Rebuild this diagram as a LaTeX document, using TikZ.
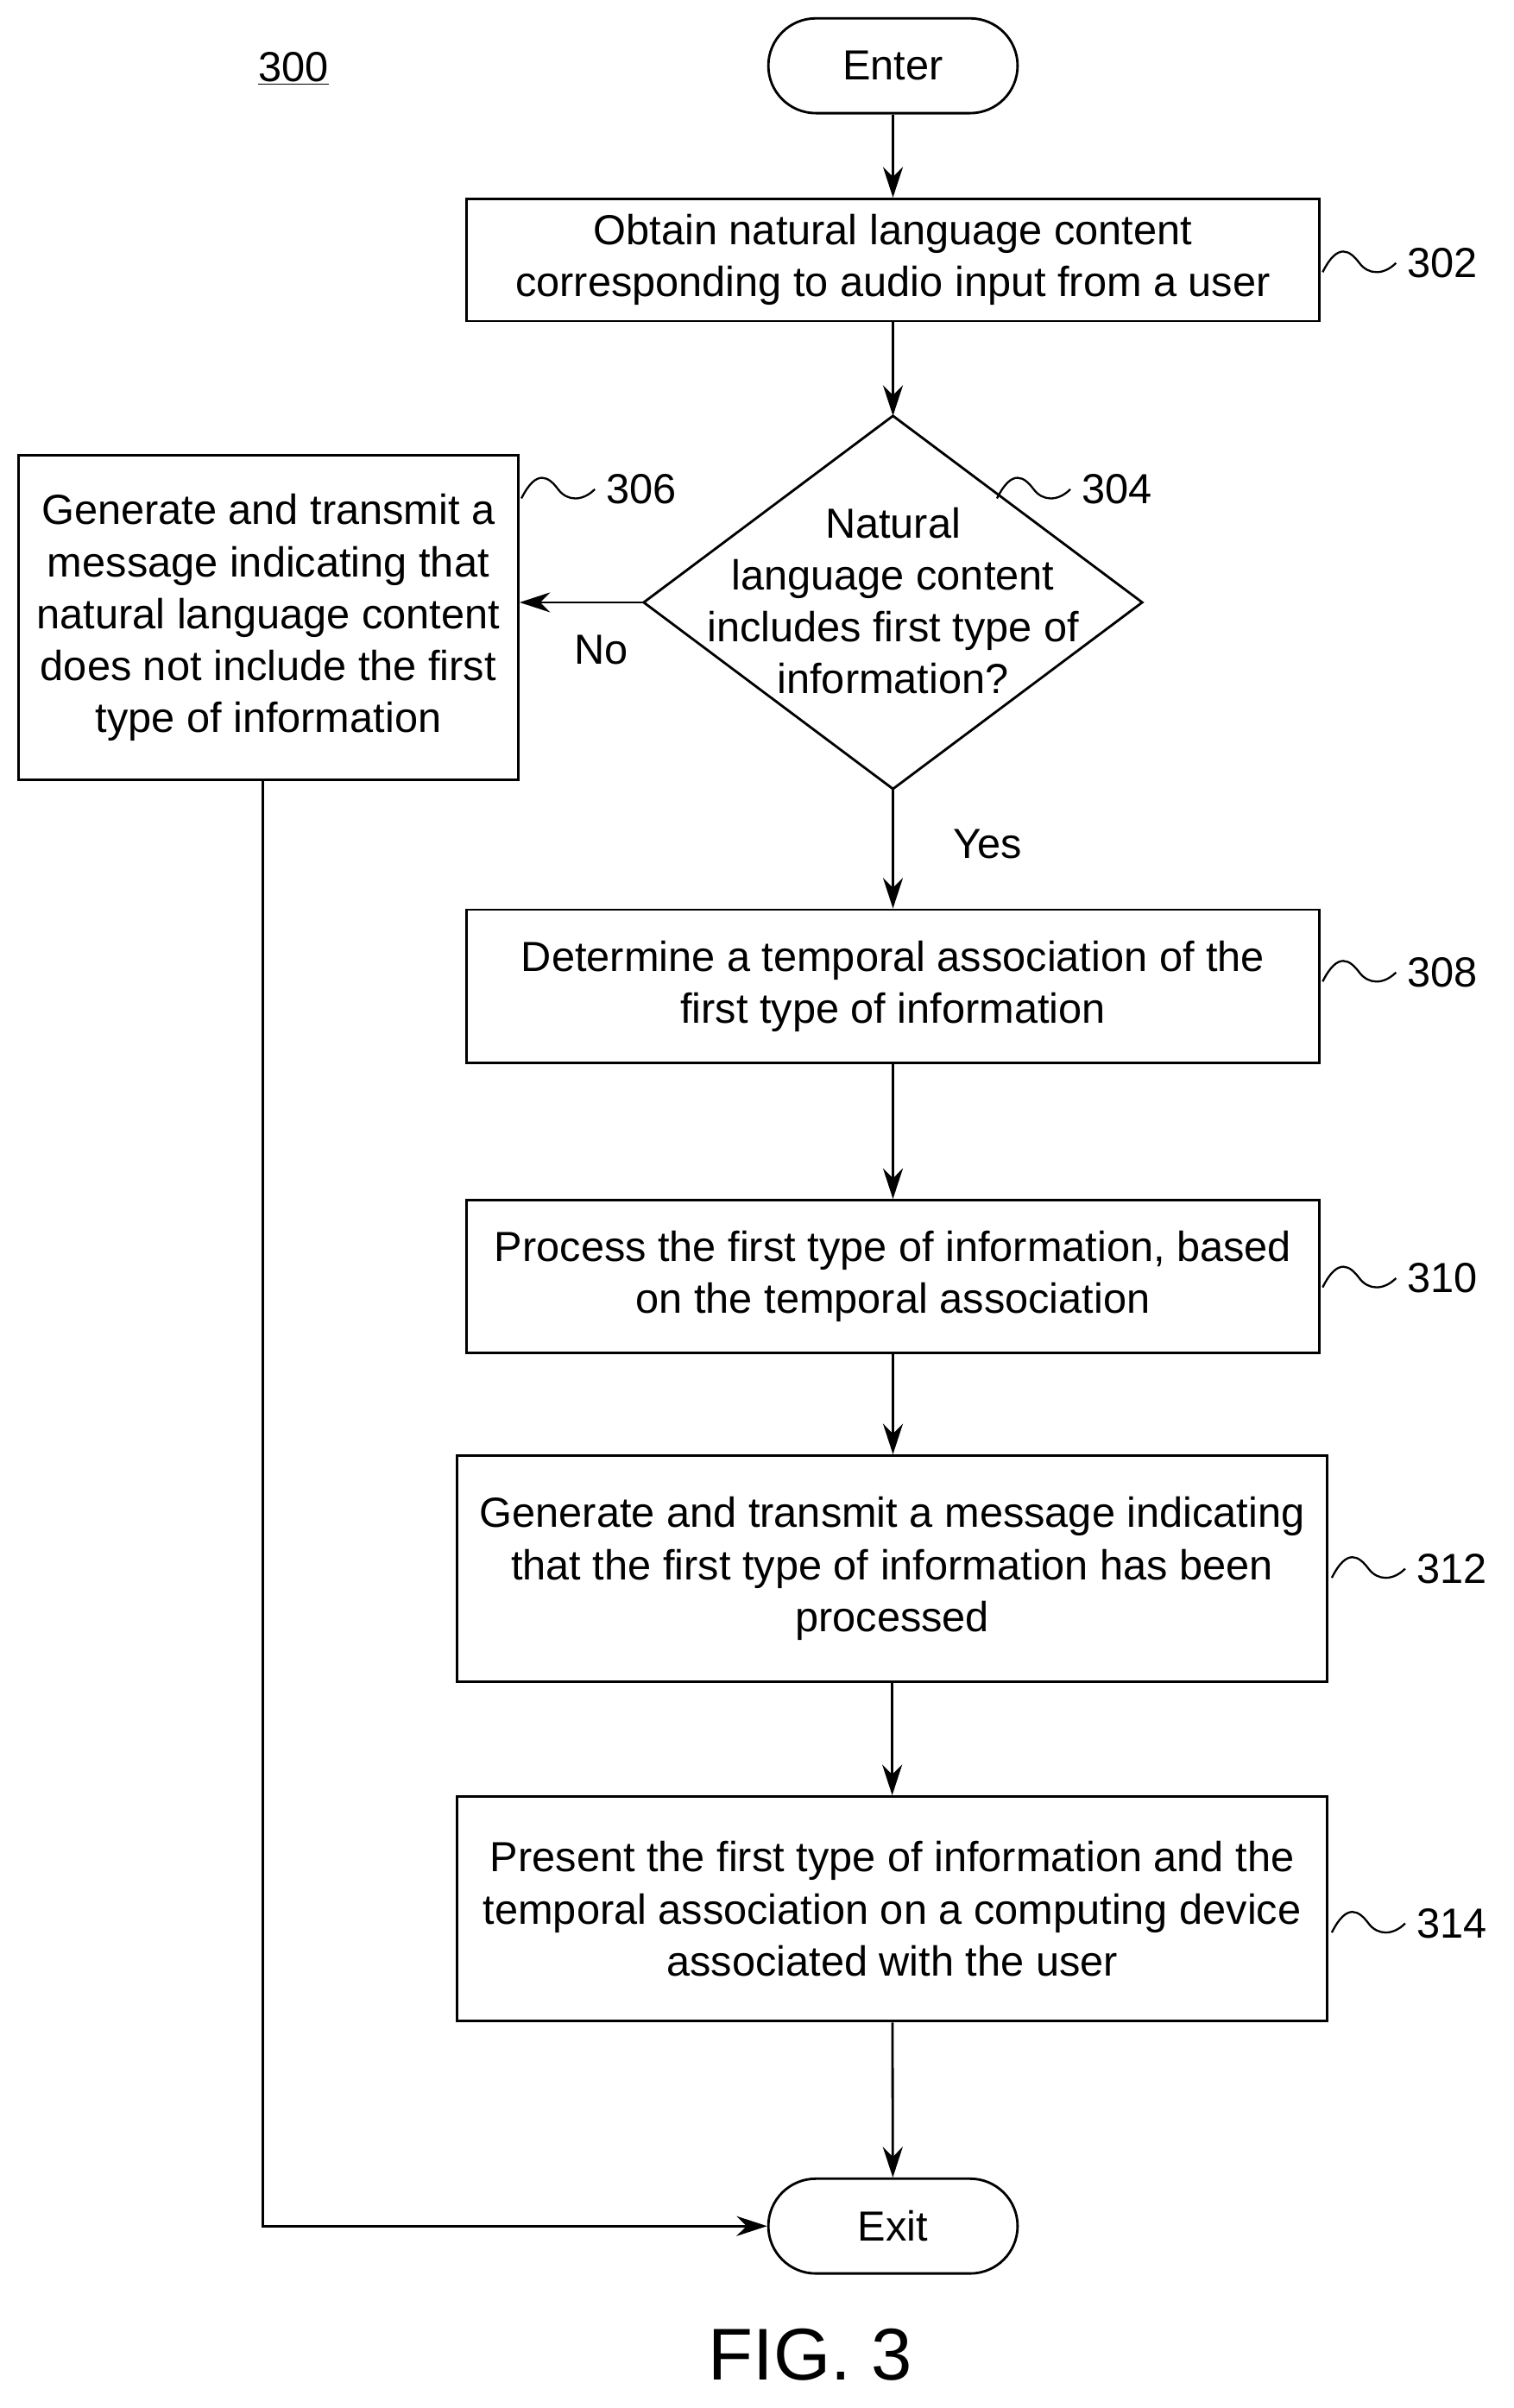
\documentclass[tikz,border=0pt]{standalone}
\usepackage{fontspec}
\setmainfont{Liberation Sans}
\usetikzlibrary{shapes.geometric,arrows.meta}
\begin{document}
\begin{tikzpicture}[x=1pt,y=-1pt,
  box/.style={draw,line width=1.6pt,minimum width=#1,align=center,font=\fontsize{27.5}{34}\selectfont,inner sep=0pt},
  term/.style={draw,line width=1.6pt,rounded corners=31pt,minimum width=163pt,minimum height=62pt,font=\fontsize{27.5}{30}\selectfont},
  arr/.style={line width=1.6pt,-{Stealth[length=20pt,width=13pt]}},
  lbl/.style={font=\fontsize{27.5}{30}\selectfont},
  sq/.style={line width=1.3pt}]
\useasboundingbox (0,0) rectangle (990,1575);
\node[lbl] (n300) at (192,45) {\underline{300}};
\node[term] (enter) at (584,43) {Enter};
\node[box=558pt,minimum height=80pt] (b302) at (584,170) {Obtain natural language content\\corresponding to audio input from a user};
\coordinate (dN) at (584,272); \coordinate (dS) at (584,516);
\coordinate (dW) at (421,394); \coordinate (dE) at (747,394);
\draw[line width=1.6pt] (dN) -- (dE) -- (dS) -- (dW) -- cycle;
\node[align=center,font=\fontsize{27.5}{34}\selectfont] (d304) at (584,393) {Natural\\language content\\includes first type of\\information?};
\node[box=327pt,minimum height=212pt] (b306) at (175.5,404) {Generate and transmit a\\message indicating that\\natural language content\\does not include the first\\type of information};
\node[box=558pt,minimum height=100pt] (b308) at (584,645) {Determine a temporal association of the\\first type of information};
\node[box=558pt,minimum height=100pt] (b310) at (584,835) {Process the first type of information, based\\on the temporal association};
\node[box=569pt,minimum height=148pt] (b312) at (583.5,1026) {Generate and transmit a message indicating\\that the first type of information has been\\processed};
\node[box=569pt,minimum height=147pt] (b314) at (583.5,1248.5) {Present the first type of information and the\\temporal association on a computing device\\associated with the user};
\node[term] (exit) at (584,1456) {Exit};
\node[font=\fontsize{48}{50}\selectfont] (fig) at (530,1540) {FIG. 3};
\node[lbl] (no) at (393,425) {No};
\node[lbl] (yes) at (646,552) {Yes};
\draw[arr] (enter) -- (b302);
\draw[arr] (b302) -- (dN);
\draw[arr] (dW) -- (b306.east|-dW);
\draw[arr] (dS) -- (b308);
\draw[arr] (b308) -- (b310);
\draw[arr] (b310.south) -- (b312.north-|b310.south);
\draw[arr] (b312) -- (b314);
\draw[arr] (b314) -- (exit);
\coordinate (lc) at (172,1456);
\draw[arr] (b306.south-|lc) -- (lc) -- (exit.west);
\foreach \n/\x/\y in {302/865/172,304/652/320,306/341/320,308/865/636,310/865/836,312/871/1026,314/871/1258}{
  \node[lbl,anchor=west] (l\n) at (\x+52,\y) {\n};
  \draw[sq] (\x,\y+6) .. controls (\x+10,\y-14) and (\x+18,\y-8) .. (\x+24,\y) .. controls (\x+30,\y+8) and (\x+40,\y+8) .. (\x+48,\y);
}
\end{tikzpicture}
\end{document}
